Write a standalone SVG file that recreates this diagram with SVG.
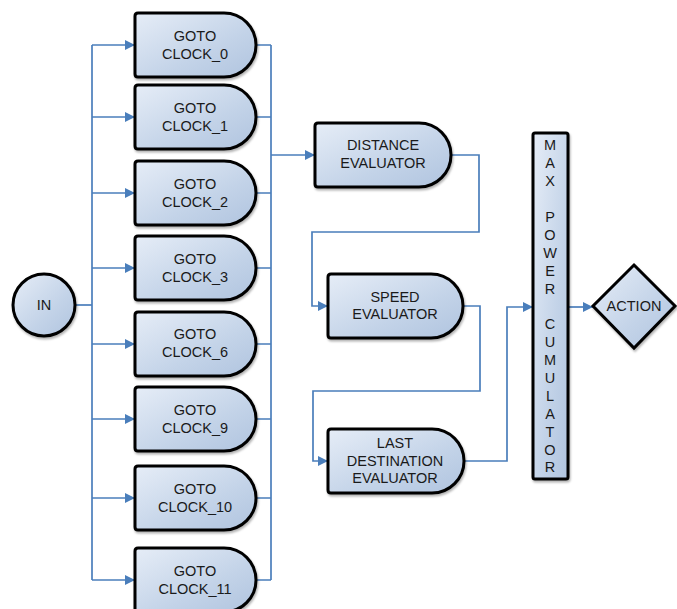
<svg xmlns="http://www.w3.org/2000/svg" width="677" height="609" viewBox="0 0 677 609">
<defs>
<linearGradient id="g" x1="0" y1="0" x2="1" y2="1">
<stop offset="0" stop-color="#e6edf7"/>
<stop offset="0.6" stop-color="#c3d3e8"/>
<stop offset="1" stop-color="#b0c4df"/>
</linearGradient>
<filter id="sh" x="-10%" y="-10%" width="130%" height="130%">
<feDropShadow dx="1" dy="2" stdDeviation="1.2" flood-color="#000" flood-opacity="0.3"/>
</filter>
<marker id="a" viewBox="0 0 10 10" refX="10" refY="5" markerWidth="11" markerHeight="10" markerUnits="userSpaceOnUse" orient="auto">
<path d="M0,0 L10,5 L0,10 Z" fill="#4a7ebb"/>
</marker>
<path id="goto" d="M135,3 Q135,0 138,0 H224 A32,32 0 0 1 224,64 H138 Q135,64 135,61 Z"/>
</defs>
<style>
.n{fill:url(#g);stroke:#000;stroke-width:3;filter:url(#sh)}
.t{font-family:"Liberation Sans",Arial,sans-serif;font-size:14.5px;fill:#1a1a1a;text-anchor:middle}
.c{fill:none;stroke:#4a7ebb;stroke-width:1.7}
.ar{marker-end:url(#a)}
</style>
<g id="connectors">
<path class="c" d="M76,305 H92"/>
<path class="c" d="M92,45 V580"/>
<path class="c ar" d="M92,45 H135"/>
<path class="c ar" d="M92,117 H135"/>
<path class="c ar" d="M92,193 H135"/>
<path class="c ar" d="M92,268 H135"/>
<path class="c ar" d="M92,344 H135"/>
<path class="c ar" d="M92,419 H135"/>
<path class="c ar" d="M92,498 H135"/>
<path class="c ar" d="M92,580 H135"/>
<path class="c" d="M271,45 V580"/>
<path class="c" d="M256,45 H271 M256,117 H271 M256,193 H271 M256,268 H271 M256,344 H271 M256,419 H271 M256,498 H271 M256,580 H271"/>
<path class="c ar" d="M271,155 H315"/>
<path class="c ar" d="M451,155 H479 V232 H312 V306 H328"/>
<path class="c ar" d="M463,306 H480 V391 H313 V461 H328"/>
<path class="c ar" d="M464,461 H507 V307 H533"/>
<path class="c ar" d="M568,307 H593"/>
</g>
<g id="in">
<circle class="n" cx="44" cy="305" r="31"/>
<text class="t" x="44" y="310">IN</text>
</g>
<g id="clock0">
<use href="#goto" class="n" y="13"/>
<text class="t" x="195" y="41">GOTO</text><text class="t" x="195" y="59">CLOCK_0</text>
</g>
<g id="clock1">
<use href="#goto" class="n" y="85"/>
<text class="t" x="195" y="113">GOTO</text><text class="t" x="195" y="131">CLOCK_1</text>
</g>
<g id="clock2">
<use href="#goto" class="n" y="161"/>
<text class="t" x="195" y="189">GOTO</text><text class="t" x="195" y="207">CLOCK_2</text>
</g>
<g id="clock3">
<use href="#goto" class="n" y="236"/>
<text class="t" x="195" y="264">GOTO</text><text class="t" x="195" y="282">CLOCK_3</text>
</g>
<g id="clock6">
<use href="#goto" class="n" y="312"/>
<text class="t" x="195" y="339">GOTO</text><text class="t" x="195" y="357">CLOCK_6</text>
</g>
<g id="clock9">
<use href="#goto" class="n" y="387"/>
<text class="t" x="195" y="415">GOTO</text><text class="t" x="195" y="433">CLOCK_9</text>
</g>
<g id="clock10">
<use href="#goto" class="n" y="466"/>
<text class="t" x="195" y="494">GOTO</text><text class="t" x="195" y="512">CLOCK_10</text>
</g>
<g id="clock11">
<use href="#goto" class="n" y="548"/>
<text class="t" x="195" y="576">GOTO</text><text class="t" x="195" y="594">CLOCK_11</text>
</g>
<g id="distance">
<path class="n" d="M315,126 Q315,123 318,123 H419 A32,32 0 0 1 419,187 H318 Q315,187 315,184 Z"/>
<text class="t" x="383" y="150">DISTANCE</text><text class="t" x="383" y="168">EVALUATOR</text>
</g>
<g id="speed">
<path class="n" d="M328,277 Q328,274 331,274 H431 A32,32 0 0 1 431,338 H331 Q328,338 328,335 Z"/>
<text class="t" x="395" y="302">SPEED</text><text class="t" x="395" y="319">EVALUATOR</text>
</g>
<g id="last">
<path class="n" d="M328,432 Q328,429 331,429 H432 A32,32 0 0 1 432,493 H331 Q328,493 328,490 Z"/>
<text class="t" x="395" y="448">LAST</text><text class="t" x="395" y="466">DESTINATION</text><text class="t" x="395" y="483">EVALUATOR</text>
</g>
<g id="max">
<rect class="n" x="533" y="133" width="35" height="346" rx="2"/>
<text class="t" x="550" y="150">M</text>
<text class="t" x="550" y="168">A</text>
<text class="t" x="550" y="186">X</text>
<text class="t" x="550" y="222">P</text>
<text class="t" x="550" y="240">O</text>
<text class="t" x="550" y="258">W</text>
<text class="t" x="550" y="276">E</text>
<text class="t" x="550" y="294">R</text>
<text class="t" x="550" y="329">C</text>
<text class="t" x="550" y="347">U</text>
<text class="t" x="550" y="365">M</text>
<text class="t" x="550" y="383">U</text>
<text class="t" x="550" y="401">L</text>
<text class="t" x="550" y="419">A</text>
<text class="t" x="550" y="437">T</text>
<text class="t" x="550" y="455">O</text>
<text class="t" x="550" y="472">R</text>
</g>
<g id="action">
<path class="n" d="M634,265 L675,306 L634,348 L593,306 Z"/>
<text class="t" x="634" y="311">ACTION</text>
</g>
</svg>
